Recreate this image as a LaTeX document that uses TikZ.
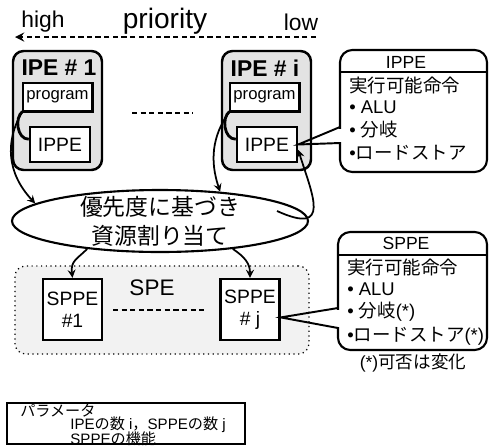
\documentclass[tikz,border=0pt]{standalone}
\usepackage{fontspec}
\setmainfont{Liberation Sans}
\newfontfamily\jp{Noto Sans CJK JP}
\usepackage{tikz}
\usetikzlibrary{shapes.geometric, fit}
\tikzset{
>=stealth, % small filled arrow heads
every node/.style={inner sep=0pt},
ipebox/.style={draw, line width=1.4pt, rounded corners=6pt, fill=gray!22},
ipettl/.style={font=\bfseries\fontsize{13}{15}\selectfont},
progbox/.style={draw, line width=0.6pt, fill=white, minimum width=13.8mm, minimum height=5.6mm, font=\fontsize{9.5}{11}\selectfont},
ippebox/.style={draw, line width=1.4pt, fill=white, minimum width=12mm, minimum height=7mm, font=\fontsize{11}{13}\selectfont},
alloc/.style={ellipse, draw, line width=1.2pt, fill=white, minimum width=59.2mm, minimum height=12.4mm},
alloctxt/.style={align=center, font=\jp\fontsize{13}{16.5}\selectfont},
spebox/.style={draw, dotted, line width=0.7pt, rounded corners=6pt, fill=gray!10},
sppebox/.style={draw, line width=1.4pt, fill=white, minimum width=11.8mm, minimum height=12.2mm, align=center, font=\fontsize{11}{12.5}\selectfont},
infobox/.style={draw, line width=1.2pt, rounded corners=7pt, fill=white},
infottl/.style={font=\fontsize{10}{12}\selectfont},
infotxt/.style={anchor=west, font=\fontsize{10.5}{12.5}\selectfont},
parambox/.style={draw, line width=1.2pt},
paramtxt/.style={anchor=west, font=\fontsize{8.6}{10}\selectfont},
conn/.style={line width=1pt},
dots/.style={line width=1.3pt, dash pattern=on 3pt off 1.9pt},
}
\begin{document}
\begin{tikzpicture}[x=0.2mm, y=-0.2mm]
    \useasboundingbox (0,0) rectangle (489,445);

    % priority axis
    \node[font=\fontsize{16}{19}\selectfont] (prio) at (165,21) {priority};
    \node[font=\fontsize{13}{15}\selectfont] (high) at (43,22) {high};
    \node[font=\fontsize{13}{15}\selectfont] (low) at (301,22) {low};
    \coordinate (plow) at (316,37);
    \coordinate (phigh) at (15,37);
    \draw[dots, ->] (plow) -- (phigh);

    % IPEs
    \node[ipebox, fit={(13,51) (102,170)}] (ipe1) {};
    \node[ipebox, fit={(222,51) (311,170)}] (ipei) {};
    \node[ipettl] (ttl1) at (59,68) {IPE \# 1};
    \node[ipettl] (ttli) at (265,68) {IPE \# i};
    \node[progbox] (prog1) at (57.5,97) {program};
    \node[progbox] (progi) at (264.5,97) {program};
    \foreach \p in {prog1, progi}
        \draw[line width=2pt] (\p.north east) -- (\p.south east) -- (\p.south west);
    \node[ippebox] (ippe1) at (60,144.5) {IPPE};
    \node[ippebox] (ippei) at (267,144.5) {IPPE};
    \draw[line width=1.6pt] (prog1.south west) .. controls +(-8,6) and +(-12,0) .. ([yshift=3pt]ippe1.west);
    \draw[line width=1.6pt] (progi.south west) .. controls +(-8,6) and +(-12,0) .. ([yshift=3pt]ippei.west);
    \coordinate (d1) at (132,113);
    \coordinate (d2) at (193,113);
    \draw[dots] (d1) -- (d2);

    % IPPE details
    \node[infobox, fit={(340,50) (487,172)}] (ippeinfo) {};
    \node[infottl] (ippettl) at (406,62) {IPPE};
    \coordinate (iu1) at (340,72);
    \coordinate (iu2) at (487,72);
    \draw[line width=1pt] (iu1) -- (iu2);
    \node[infotxt] (ippeA) at (349,85) {\jp 実行可能命令};
    \node[infotxt] (ippeB) at (349,107) {• ALU};
    \node[infotxt] (ippeC) at (349,130) {• {\jp 分岐}};
    \node[infotxt] (ippeD) at (349,153) {•{\jp ロードストア}};
    \coordinate (iw1) at (340,127);
    \coordinate (iw2) at (340,143);
    \fill[white] (337,128.5) rectangle (343,141.5);
    \draw[line width=1.1pt] (iw1) -- (ippei.east) -- (iw2);

    % allocation
    \node[alloc] (alloc) at (160,221) {};
    \node[alloctxt] (alloctext) at (alloc.center) {優先度に基づき\\資源割り当て};
    \draw[conn, ->] (prog1.south west) .. controls +(-18,30) and +(-28,-30) .. (alloc.172);
    \draw[conn, ->] (progi.south west) .. controls +(-18,25) and +(-10,-30) .. (alloc.26);
    \draw[conn, ->] ([shift={(117,-10)}]alloc.center) .. controls +(55,25) and +(14,45) .. ([yshift=-3pt]ippei.east);

    % SPE
    \node[spebox, fit={(15,266) (309,354)}] (spe) {};
    \node[font=\fontsize{12.8}{15}\selectfont] (spettl) at (152,288) {SPE};
    \node[sppebox] (sppe1) at (72.5,309.5) {SPPE\\\#1};
    \node[sppebox] (sppej) at (250,309.5) {SPPE\\\# j};
    \coordinate (s1) at (113,310);
    \coordinate (s2) at (205,310);
    \draw[dots] (s1) -- (s2);
    \draw[conn, ->] (alloc.201) .. controls +(-10,10) and +(-2,-17) .. (sppe1.north);
    \draw[conn, ->] (alloc.339) .. controls +(12,8) and +(0,-14) .. (sppej.north);

    % SPPE details
    \node[infobox, fit={(338,232) (487,350)}] (sppeinfo) {};
    \node[infottl] (sppettl) at (406,243) {SPPE};
    \coordinate (su1) at (338,255);
    \coordinate (su2) at (487,255);
    \draw[line width=1pt] (su1) -- (su2);
    \node[infotxt] (sppeA) at (347,267) {\jp 実行可能命令};
    \node[infotxt] (sppeB) at (347,289) {• ALU};
    \node[infotxt] (sppeC) at (347,312) {• {\jp 分岐}(*)};
    \node[infotxt] (sppeD) at (347,336) {•{\jp ロードストア}(*)};
    \coordinate (sw1) at (338,308);
    \coordinate (sw2) at (338,328);
    \fill[white] (335,309.5) rectangle (341,326.5);
    \draw[line width=1.1pt] (sw1) -- ([yshift=-4.5pt]sppej.east) -- (sw2);
    \node[font=\fontsize{10}{12}\selectfont] (note) at (413,363) {(*){\jp 可否は変化}};

    % parameters
    \node[parambox, fit={(7,403) (245,444)}] (param) {};
    \node[paramtxt] (pA) at (20,411) {\jp パラメータ};
    \node[paramtxt] (pB) at (70,425) {IPE{\jp の数} i{\jp ，}SPPE{\jp の数} j};
    \node[paramtxt] (pC) at (70,438.5) {SPPE{\jp の機能}};
\end{tikzpicture}
\end{document}
